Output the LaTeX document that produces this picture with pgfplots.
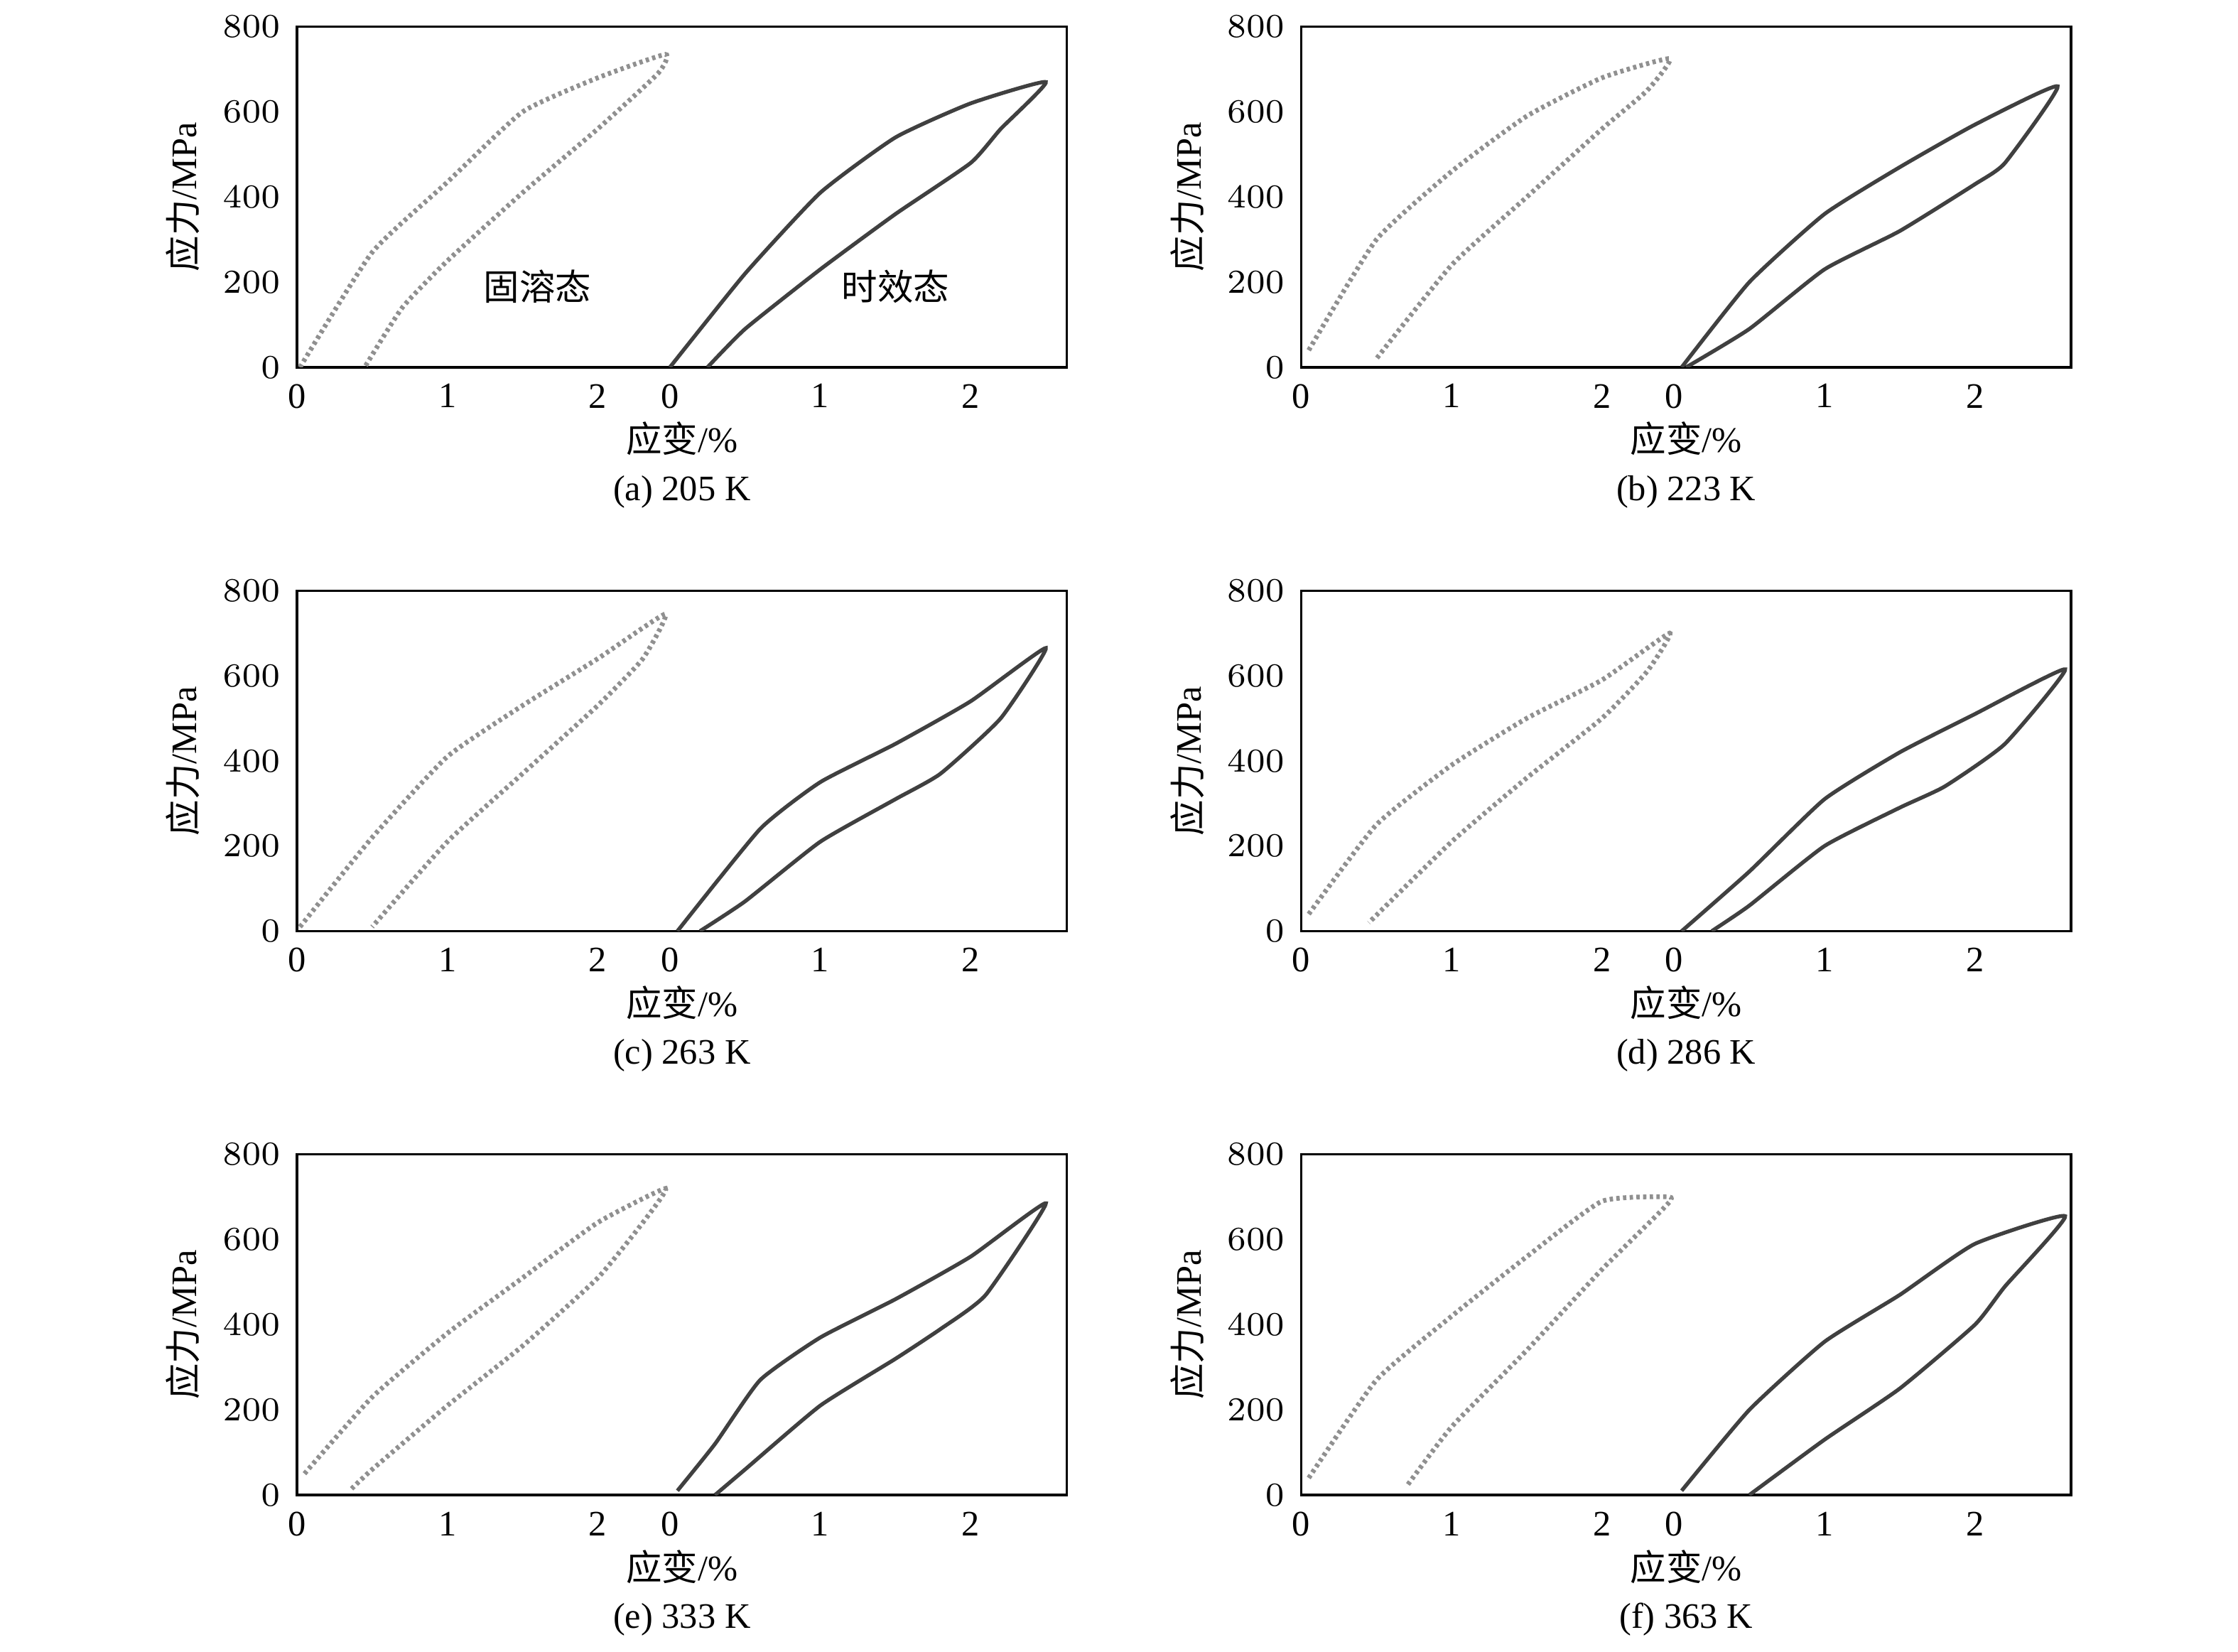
\documentclass[border=0pt]{standalone}
\usepackage{pgfplots}
\pgfplotsset{compat=1.18}
\usepackage{fontspec}
\setmainfont{Liberation Serif}
\newfontfamily\cjk{Noto Sans CJK SC}
\pgfplotsset{panel/.style={scale only axis,width=161pt,height=71.2pt,anchor=north west,
 xmin=0,xmax=5.12,ymin=0,ymax=800,ytick={0,200,400,600,800},
 xtick={0,1,2,2.48,3.48,4.48},xticklabels={0,1,2,0,1,2},major tick length=0pt,
 tick label style={font=\fontsize{7.5}{8}\selectfont},
 label style={font=\fontsize{7.5}{10}\selectfont},
 ylabel={{\cjk 应力}/MPa},ylabel style={yshift=-2pt},
 xlabel style={align=center,yshift=4pt},axis line style={line width=0.5pt}},
 sol/.style={gray!75!black!70,line width=1pt,dash pattern=on 0.7pt off 0.7pt,smooth,tension=0.3},
 aged/.style={black!75,line width=0.8pt,smooth,tension=0.3}}
\newcommand{\panel}[5]{%
\begin{axis}[panel,at={#1},xlabel={{\cjk 应变}/\%\\#2}]
\addplot[sol] coordinates {#3};
\addplot[aged] table[x expr=\thisrowno{0}+2.48,y index=1,row sep=\\] {#4};
#5
\end{axis}}
\begin{document}
\begin{tikzpicture}
\path (0,0) rectangle (468pt,-344.8pt);
\panel{(62.1pt,-5.1pt)}{(a) 205 K}
{(0.02,0)(0.5,270)(1,435)(1.5,600)(2,680)(2.45,735)(2.4,690)(2,560)(1.5,410)(1,250)(0.7,140)(0.45,0)}
{0 0\\0.5 220\\1 410\\1.5 540\\2 620\\2.5 670\\2.2 560\\2 480\\1.5 360\\1 230\\0.5 90\\0.25 0\\}
{\node[font=\cjk\fontsize{7.5}{8}\selectfont] at (axis cs:1.6,190) {固溶态};
 \node[font=\cjk\fontsize{7.5}{8}\selectfont] at (axis cs:3.98,190) {时效态};}
\panel{(272.1pt,-5.1pt)}{(b) 223 K}
{(0.05,40)(0.5,300)(1,460)(1.5,590)(2,680)(2.45,725)(2.3,650)(2,560)(1.5,400)(1,240)(0.5,20)}
{0.05 0\\0.5 200\\1 360\\1.5 470\\2 570\\2.55 660\\2.2 480\\2 430\\1.5 320\\1 230\\0.5 90\\0.08 0\\}{}
\panel{(62.1pt,-123pt)}{(c) 263 K}
{(0.02,10)(0.5,220)(1,410)(1.5,530)(2,640)(2.45,745)(2.3,640)(2,530)(1.5,370)(1,210)(0.5,10)}
{0.05 0\\0.6 240\\1 350\\1.5 440\\2 540\\2.5 665\\2.2 500\\1.8 370\\1.5 310\\1 210\\0.5 70\\0.2 0\\}{}
\panel{(272.1pt,-123pt)}{(d) 286 K}
{(0.05,40)(0.5,250)(1,390)(1.5,500)(2,590)(2.45,700)(2.3,610)(2,500)(1.5,360)(1,210)(0.45,20)}
{0.05 0\\0.5 140\\1 310\\1.5 420\\2 510\\2.6 615\\2.2 440\\1.8 340\\1.5 290\\1 200\\0.5 60\\0.25 0\\}{}
\panel{(62.1pt,-240.9pt)}{(e) 333 K}
{(0.05,50)(0.5,230)(1,380)(1.5,510)(2,640)(2.45,720)(2.3,640)(2,510)(1.5,350)(1,210)(0.5,60)(0.35,10)}
{0.05 10\\0.3 120\\0.6 270\\1 370\\1.5 460\\2 560\\2.5 685\\2.1 470\\1.8 390\\1.5 320\\1 210\\0.5 60\\0.3 0\\}{}
\panel{(272.1pt,-240.9pt)}{(f) 363 K}
{(0.05,40)(0.5,270)(1,420)(1.5,560)(2,690)(2.45,700)(2.4,670)(2,530)(1.5,340)(1,160)(0.7,20)}
{0.05 10\\0.5 200\\1 360\\1.5 470\\2 590\\2.6 655\\2.2 490\\2 400\\1.5 250\\1 130\\0.5 0\\}{}
\end{tikzpicture}
\end{document}
